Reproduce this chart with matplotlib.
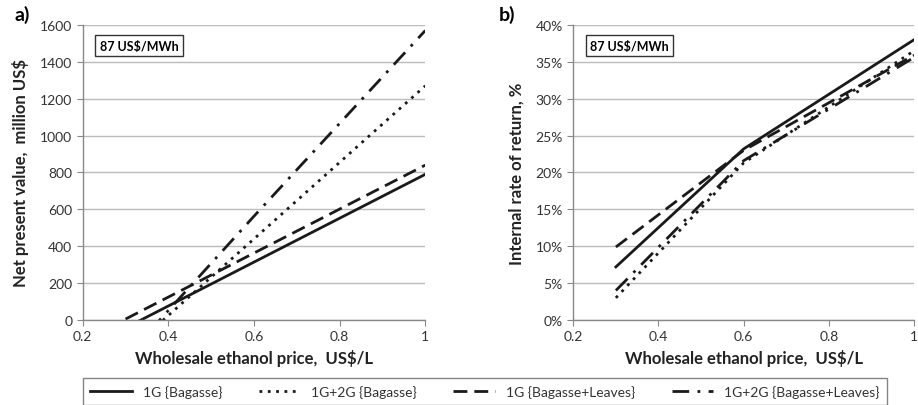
import matplotlib
matplotlib.use("Agg")
import matplotlib.pyplot as plt
from matplotlib.ticker import FuncFormatter, MultipleLocator

plt.rcParams['font.family'] = ['Lato', 'DejaVu Sans']

# data
price = [0.3, 0.6, 1.0]
series_names = ["1G {Bagasse}", "1G+2G {Bagasse}",
                "1G {Bagasse+Leaves}", "1G+2G {Bagasse+Leaves}"]
npv_1g_bag = [-43, 314, 790]
npv_12g_bag = [-183, 440, 1270]
npv_1g_bl = [5, 363, 840]
npv_12g_bl = [-204, 563, 1570]
irr_1g_bag = [7.2, 23.2, 38.0]
irr_12g_bag = [3.0, 21.3, 36.5]
irr_1g_bl = [9.9, 23.0, 35.9]
irr_12g_bl = [4.0, 21.6, 35.6]
xticks = [0.2, 0.4, 0.6, 0.8, 1.0]
xticklabels = ["0.2", "0.4", "0.6", "0.8", "1"]

styles = [dict(ls='-'), dict(ls=(0, (1, 2))), dict(ls=(0, (5, 2.5))),
          dict(ls=(0, (6, 3, 1, 3)))]

fig = plt.figure(figsize=(9.18, 4.06), dpi=100)
ax1 = fig.add_axes([0.0901, 0.2094, 0.3732, 0.7266])
ax2 = fig.add_axes([0.6245, 0.2094, 0.3712, 0.7266])


def style_axis(ax):
    for s in ['top', 'right']:
        ax.spines[s].set_visible(False)
    for s in ['left', 'bottom']:
        ax.spines[s].set_color('#888888')
        ax.spines[s].set_linewidth(1)
    ax.grid(axis='y', color='#bbbbbb', lw=1)
    ax.set_axisbelow(True)
    ax.tick_params(direction='out', length=4, color='#888888',
                   labelsize=10, labelcolor='#333333')
    ax.set_xlim(0.2, 1.0)
    ax.set_xticks(xticks)
    ax.set_xticklabels(xticklabels)
    ax.set_xlabel("Wholesale ethanol price,  US$/L", fontsize=12,
                  fontweight='bold', color='#222222', labelpad=5)
    ax.text(0.05, 0.93, "87 US$/MWh", transform=ax.transAxes, fontsize=9,
            fontweight='bold', va='center', ha='left',
            bbox=dict(boxstyle='square,pad=0.35', fc='white', ec='#333333', lw=1))


lines = []
for ys, st in zip([npv_1g_bag, npv_12g_bag, npv_1g_bl, npv_12g_bl], styles):
    ln, = ax1.plot(price, ys, color='#1a1a1a', lw=2, **st)
    lines.append(ln)
ax1.set_ylim(0, 1600)
ax1.yaxis.set_major_locator(MultipleLocator(200))
ax1.set_ylabel("Net present value,  million US$", fontsize=12,
               fontweight='bold', color='#222222', labelpad=8)
style_axis(ax1)

for ys, st in zip([irr_1g_bag, irr_12g_bag, irr_1g_bl, irr_12g_bl], styles):
    ax2.plot(price, ys, color='#1a1a1a', lw=2, **st)
ax2.set_ylim(0, 40)
ax2.yaxis.set_major_locator(MultipleLocator(5))
ax2.yaxis.set_major_formatter(FuncFormatter(lambda v, p: f"{v:.0f}%"))
ax2.set_ylabel("Internal rate of return, %", fontsize=12,
               fontweight='bold', color='#222222', labelpad=8)
style_axis(ax2)

fig.text(0.016, 0.963, "a)", fontsize=14, fontweight='bold', va='center')
fig.text(0.543, 0.963, "b)", fontsize=14, fontweight='bold', va='center')

leg = fig.legend(lines, series_names, loc='upper left', ncol=4, mode='expand',
                 bbox_to_anchor=(0.0905, 1 - 379 / 406, 0.8755, 0),
                 fontsize=10, frameon=True, fancybox=False, handlelength=3,
                 borderpad=0.5, borderaxespad=0, handletextpad=0.8)
leg.get_frame().set_edgecolor('#666666')
leg.get_frame().set_linewidth(1)
for t in leg.get_texts():
    t.set_color('#333333')

fig.savefig("out.png", dpi=100)
